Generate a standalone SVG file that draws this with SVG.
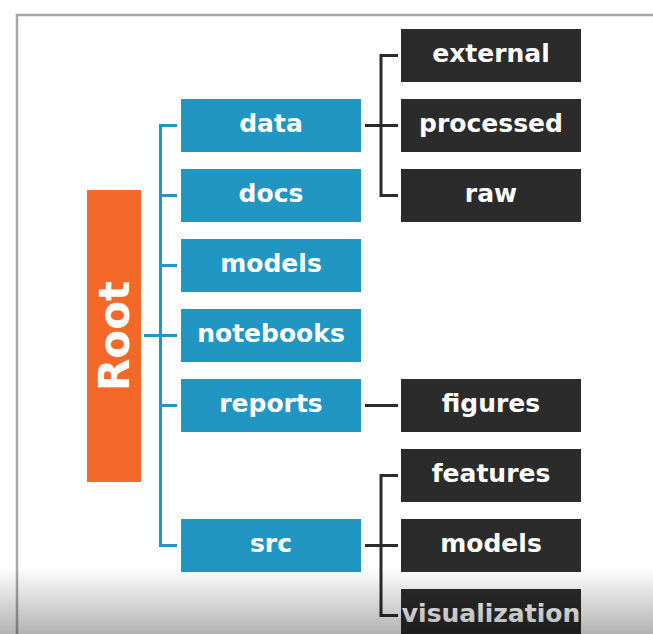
<svg xmlns="http://www.w3.org/2000/svg" width="653" height="634" viewBox="0 0 653 634">
<defs>
<style>
.blue{fill:#2196c3}
.dark{fill:#2b2b2b}
.root{fill:#f4682a}
.lbl{font-family:"DejaVu Sans",sans-serif;font-weight:bold;font-size:25px;fill:#ffffff;text-anchor:middle}
.bl{stroke:#2196c3;stroke-width:3;fill:none}
.dl{stroke:#2b2b2b;stroke-width:3;fill:none}
</style>
<linearGradient id="shade" x1="0" y1="0" x2="0" y2="1">
<stop offset="0" stop-color="#000" stop-opacity="0"/>
<stop offset="1" stop-color="#000" stop-opacity="0.3"/>
</linearGradient>
</defs>
<rect width="653" height="634" fill="#ffffff"/>
<path d="M17 634 V15 H653" fill="none" stroke="#a9a9a9" stroke-width="2.5"/>
<g id="connectors">
<path class="bl" d="M144 335.5 H160.5"/>
<path class="bl" d="M177 125.5 H160.5 V545.5 H177"/>
<path class="bl" d="M160.5 195.5 H177 M160.5 265.5 H177 M160.5 335.5 H177 M160.5 405.5 H177"/>
<path class="dl" d="M365 125.5 H398 M398 55.5 H381 V195.5 H398"/>
<path class="dl" d="M365 405.5 H398"/>
<path class="dl" d="M365 545.5 H398 M398 475.5 H381 V615.5 H398"/>
</g>
<g id="root"><rect class="root" x="87" y="190" width="54" height="292"/><text class="lbl" style="font-size:42px" transform="translate(129,336) rotate(-90)">Root</text></g>
<g id="data"><rect class="blue" x="181" y="99" width="180" height="53"/><text class="lbl" x="271" y="132">data</text></g>
<g id="docs"><rect class="blue" x="181" y="169" width="180" height="53"/><text class="lbl" x="271" y="202">docs</text></g>
<g id="models"><rect class="blue" x="181" y="239" width="180" height="53"/><text class="lbl" x="271" y="272">models</text></g>
<g id="notebooks"><rect class="blue" x="181" y="309" width="180" height="53"/><text class="lbl" x="271" y="342">notebooks</text></g>
<g id="reports"><rect class="blue" x="181" y="379" width="180" height="53"/><text class="lbl" x="271" y="412">reports</text></g>
<g id="src"><rect class="blue" x="181" y="519" width="180" height="53"/><text class="lbl" x="271" y="552">src</text></g>
<g id="external"><rect class="dark" x="401" y="29" width="180" height="53"/><text class="lbl" x="491" y="62">external</text></g>
<g id="processed"><rect class="dark" x="401" y="99" width="180" height="53"/><text class="lbl" x="491" y="132">processed</text></g>
<g id="raw"><rect class="dark" x="401" y="169" width="180" height="53"/><text class="lbl" x="491" y="202">raw</text></g>
<g id="figures"><rect class="dark" x="401" y="379" width="180" height="53"/><text class="lbl" x="491" y="412">figures</text></g>
<g id="features"><rect class="dark" x="401" y="449" width="180" height="53"/><text class="lbl" x="491" y="482">features</text></g>
<g id="src-models"><rect class="dark" x="401" y="519" width="180" height="53"/><text class="lbl" x="491" y="552">models</text></g>
<g id="visualization"><rect class="dark" x="401" y="589" width="180" height="53"/><text class="lbl" x="491" y="622">visualization</text></g>
<rect x="0" y="567" width="653" height="67" fill="url(#shade)"/>
</svg>
